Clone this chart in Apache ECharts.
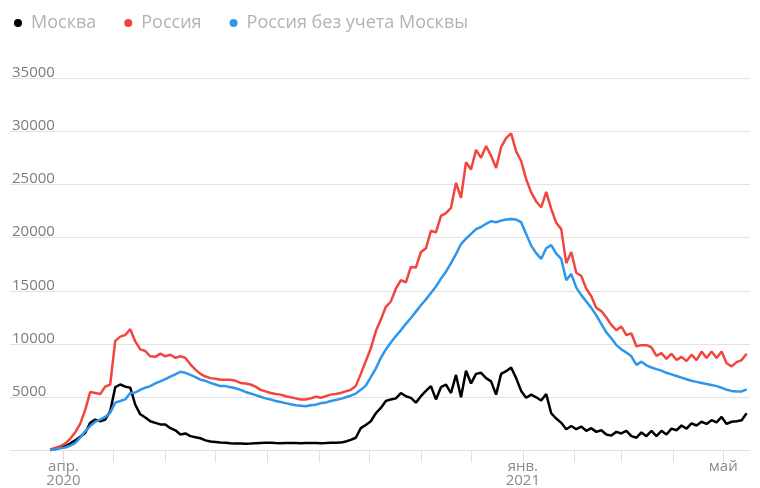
<!DOCTYPE html>
<html><head><meta charset="utf-8">
<script src="https://cdn.jsdelivr.net/npm/echarts@6/dist/echarts.min.js"></script>
<style>html,body{margin:0;padding:0;background:#fff}#c{width:760px;height:488px}</style>
</head><body><div id="c"></div>
<script>
const seriesNames = ['Москва', 'Россия', 'Россия без учета Москвы'];
const seriesColors = ['#000000', '#f2453d', '#2d96ec'];
const firstDate = '2020-03-24';
const stepDays = 3;

const moscow = [50,150,300,400,650,950,1300,1650,2600,2900,
 2750,2900,3700,5950,6200,6000,5900,4300,3400,3100,
 2750,2600,2450,2450,2100,1900,1500,1600,1350,1250,
 1150,950,850,800,750,720,680,650,650,640,
 650,680,700,720,720,700,690,700,710,700,
 690,700,710,700,690,700,720,730,740,850,
 1000,1200,2100,2400,2750,3500,4000,4650,4800,4900,
 5400,5100,4950,4500,5100,5600,6050,4800,5950,6200,
 5400,7100,5000,7500,6300,7200,7300,6800,6500,5250,
 7200,7450,7800,6800,5600,4950,5250,5000,4700,5300,
 3500,3000,2600,2000,2300,2000,2250,1850,2100,1750,
 1900,1500,1400,1750,1600,1850,1350,1200,1700,1350,
 1850,1350,1850,1500,2050,1900,2350,2050,2550,2350,
 2700,2500,2850,2650,3150,2500,2700,2750,2850,3500];

const russia = [100,250,400,650,1100,1700,2500,3800,5500,5400,
 5300,6000,6200,10300,10700,10850,11400,10250,9500,9350,
 8850,8800,9100,8850,9000,8700,8850,8700,8100,7600,
 7200,6950,6800,6750,6650,6650,6650,6550,6350,6300,
 6200,6000,5700,5550,5400,5300,5250,5100,5000,4900,
 4800,4800,4900,5050,4950,5100,5250,5300,5400,5550,
 5700,6050,7200,8400,9600,11200,12300,13500,14000,15200,
 16000,15800,17250,17200,18650,19000,20650,20500,22050,22300,
 22800,25150,23750,27100,26400,28250,27500,28600,27700,26550,
 28500,29350,29800,28100,27200,25500,24250,23400,22850,24300,
 22700,21400,20800,17600,18650,16700,16400,15200,14500,13400,
 13100,12500,11800,11300,11650,10850,11000,9800,9900,9900,
 9700,8900,9150,8600,9100,8500,8800,8400,9000,8500,
 9300,8700,9300,8700,9300,8200,7900,8300,8500,9100];

const russiaExMoscow = [50,100,200,280,450,700,1200,1800,2300,2700,
 2900,3150,3550,4500,4650,4800,5400,5450,5700,5900,
 6050,6300,6500,6700,6950,7150,7400,7300,7100,6900,
 6650,6550,6350,6200,6050,6050,5950,5850,5700,5500,
 5350,5200,5050,4900,4800,4650,4550,4450,4350,4250,
 4200,4150,4250,4300,4450,4500,4650,4750,4850,5000,
 5150,5350,5700,6100,6900,7700,8700,9500,10150,10750,
 11300,11900,12450,13050,13650,14200,14800,15400,16150,16800,
 17600,18450,19400,19900,20350,20800,21000,21300,21550,21450,
 21600,21700,21750,21700,21450,20350,19250,18550,18000,19000,
 19300,18500,18000,16000,16600,15300,14600,14000,13400,12700,
 11900,11100,10550,9900,9500,9200,8850,8050,8350,8000,
 7800,7650,7500,7300,7150,7000,6850,6700,6550,6450,
 6350,6250,6150,6050,5900,5700,5600,5550,5550,5750];

const xMin = '2020-02-29';
const xMax = '2021-05-17';
const monthTicks = ['2020-04-01','2020-05-01','2020-06-01','2020-07-01','2020-08-01','2020-09-01',
 '2020-10-01','2020-11-01','2020-12-01','2021-01-01','2021-02-01','2021-03-01','2021-04-01','2021-05-01'];
const labelDates = ['2020-04-01', '2021-01-01', '2021-05-01'];
const labelTexts = ['апр.\n2020', 'янв.\n2021', 'май'];
const yMin = 0, yMax = 35000, yStep = 5000;

function ts(s) { const p = s.split('-').map(Number); return Date.UTC(p[0], p[1] - 1, p[2]); }
const DAY = 86400000;
function toPoints(arr) { const t0 = ts(firstDate); return arr.map((v, i) => [t0 + i * stepDays * DAY, v]); }
const labelTs = labelDates.map(ts);

const chart = echarts.init(document.getElementById('c'), null, { renderer: 'canvas' });
const font = '"Open Sans", Roboto, sans-serif';
const allData = [moscow, russia, russiaExMoscow];
chart.setOption({
  animation: false,
  backgroundColor: '#fff',
  legend: {
    left: 9, top: 9,
    icon: 'circle', itemWidth: 16, itemHeight: 8, itemGap: 28,
    data: seriesNames,
    textStyle: { color: '#b3b3b3', fontSize: 18, fontFamily: font }
  },
  grid: { left: 10, right: 10, top: 78, bottom: 35, containLabel: false },
  xAxis: {
    type: 'value',
    min: ts(xMin), max: ts(xMax),
    axisLine: { show: true, lineStyle: { color: '#dedede', width: 1 } },
    axisTick: { show: true, customValues: monthTicks.map(ts), length: 12, lineStyle: { color: '#dedede' } },
    splitLine: { show: false },
    axisLabel: {
      customValues: labelTs,
      formatter: function (v) { const i = labelTs.indexOf(v); return i >= 0 ? labelTexts[i] : ''; },
      color: '#8a8a8a', fontSize: 15, lineHeight: 14, margin: 9, fontFamily: font, align: 'center'
    }
  },
  yAxis: {
    type: 'value', min: yMin, max: yMax, interval: yStep,
    axisLine: { show: false }, axisTick: { show: false },
    splitLine: { show: true, lineStyle: { color: '#e3e3e3', width: 1 } },
    axisLabel: {
      inside: true, margin: 2, showMinLabel: false,
      formatter: function (v) { return String(v); },
      verticalAlign: 'bottom', lineHeight: 11,
      color: '#7c7c7c', fontSize: 15, fontFamily: font
    }
  },
  series: seriesNames.map((n, k) => ({
    name: n, type: 'line', data: toPoints(allData[k]),
    showSymbol: false, symbol: 'circle', color: seriesColors[k],
    lineStyle: { width: 2.5, color: seriesColors[k] }
  }))
});
</script></body></html>
